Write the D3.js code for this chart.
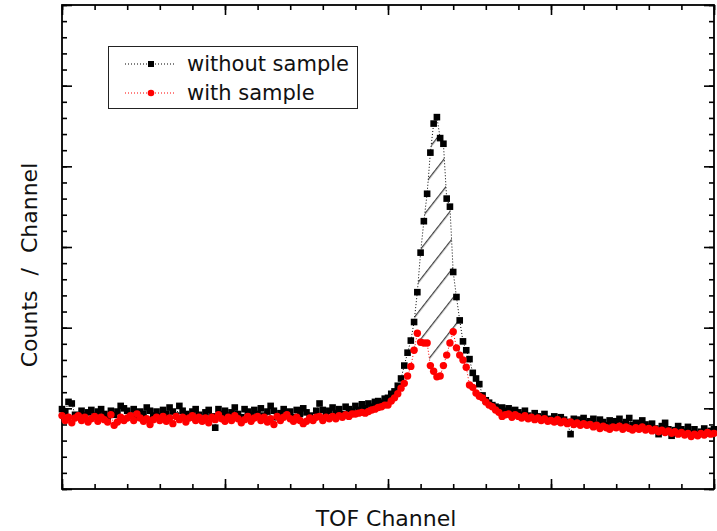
<!DOCTYPE html>
<html>
<head>
<meta charset="utf-8">
<script src="https://cdn.jsdelivr.net/npm/d3@7"></script>
<style>
  body { margin: 0; background: #fff; }
  svg { display: block; font-family: "DejaVu Sans", sans-serif; }
</style>
</head>
<body>
<div id="graph-container"></div>
<script>
// channel numbers, one point per channel
const channels = d3.range(0, 201);

// counts per channel
const withoutSample = [
  99, 96, 108, 106, 92, 90, 97, 91, 95, 98,
  91, 96, 99, 93, 89, 97, 92, 96, 103, 100,
  97, 91, 99, 89, 96, 93, 101, 97, 91, 96,
  90, 98, 93, 101, 96, 91, 103, 97, 93, 89,
  96, 99, 92, 86, 95, 98, 90, 76, 99, 93,
  97, 91, 95, 101, 93, 89, 99, 96, 91, 98,
  93, 100, 91, 96, 103, 97, 89, 94, 99, 91,
  96, 89, 98, 93, 100, 95, 91, 88, 97, 106,
  98, 91, 97, 101, 94, 99, 93, 102, 99, 96,
  103, 98, 105, 100, 106, 102, 108, 109, 107, 112,
  113, 118, 121, 128, 137, 153, 169, 184, 207, 244,
  293, 332, 366, 417, 453, 461, 435, 428, 360, 350,
  269, 238, 209, 183, 172, 161, 144, 137, 130, 116,
  110, 107, 104, 102, 100, 101, 97, 100, 96, 98,
  95, 92, 97, 91, 89, 94, 90, 88, 93, 87,
  86, 90, 84, 89, 86, 83, 68, 87, 82, 86,
  88, 81, 84, 87, 80, 86, 83, 79, 85, 81,
  84, 87, 80, 83, 88, 79, 82, 78, 85, 80,
  77, 81, 75, 68, 78, 82, 74, 66, 73, 78,
  74, 71, 77, 69, 74, 68, 71, 75, 69, 72, 74
];

const withSample = [
  91, 85, 89, 82, 88, 91, 85, 89, 83, 87,
  90, 84, 89, 86, 83, 92, 79, 83, 89, 85,
  88, 91, 85, 93, 88, 84, 87, 80, 86, 89,
  85, 90, 84, 88, 81, 90, 86, 89, 83, 88,
  91, 85, 89, 84, 88, 82, 89, 86, 92, 87,
  84, 89, 85, 91, 87, 82, 86, 90, 84, 88,
  90, 85, 89, 83, 87, 80, 90, 85, 89, 92,
  87, 84, 89, 85, 81, 84, 88, 85, 89, 90,
  85, 89, 87, 90, 87, 91, 89, 92, 90, 93,
  93, 94, 95, 94, 96, 98, 99, 101, 102, 104,
  104, 109, 113, 118, 125, 131, 140, 152, 172, 193,
  182, 181, 181, 153, 146, 139, 140, 153, 166, 181,
  195, 175, 166, 160, 151, 129, 126, 119, 115, 113,
  108, 104, 102, 98, 95, 90, 92, 93, 89, 92,
  90, 88, 91, 87, 89, 86, 88, 85, 87, 84,
  85, 83, 86, 82, 84, 81, 83, 80, 82, 79,
  81, 79, 80, 77, 79, 75, 78, 76, 74, 77,
  76, 78, 74, 77, 75, 73, 76, 74, 77, 73,
  75, 72, 74, 71, 73, 70, 72, 69, 71, 68,
  70, 67, 69, 65, 68, 66, 69, 67, 70, 68, 69
];

// hatched region between the two curves (channel range)
const hatchRange = [108, 122];

const seriesNames = ["without sample", "with sample"];

// the axes carry no numbers, only ticks
const xMajor = d3.range(0, 201, 50);
const xMinor = d3.range(0, 201, 10);
const yMajor = d3.range(0, 601, 100);
const yMinor = d3.range(0, 601, 20);

let margin = {top: 5, right: 3, bottom: 42, left: 62},
  width = 717 - margin.left - margin.right,
  height = 531 - margin.top - margin.bottom;

let svgRoot = d3.select("#graph-container")
  .append("svg")
  .attr("width", 717)
  .attr("height", 531);

let svg = svgRoot.append("g")
  .attr("transform", "translate(" + margin.left + "," + margin.top + ")");

let x = d3.scaleLinear().domain([0, 200]).range([0, width]);
let y = d3.scaleLinear().domain([0, 600]).range([height, 0]);

let black = channels.map((c, i) => ({c: c, v: withoutSample[i]}));
let red = channels.map((c, i) => ({c: c, v: withSample[i]}));

let line = d3.line().x(d => x(d.c)).y(d => y(d.v));

// hatch pattern: thin lines leaning to the right
let defs = svgRoot.append("defs");
let pat = defs.append("pattern")
  .attr("id", "hatch")
  .attr("patternUnits", "userSpaceOnUse")
  .attr("width", 18.5)
  .attr("height", 10)
  .attr("patternTransform", "rotate(38)");
pat.append("line")
  .attr("x1", 7.5).attr("y1", -1)
  .attr("x2", 7.5).attr("y2", 11)
  .attr("stroke", "#222")
  .attr("stroke-width", 1.1);

// hatched area: black curve on top, red curve back along the bottom
let upperEdge = black.filter(d => d.c >= hatchRange[0] && d.c <= hatchRange[1]);
let lowerEdge = red.filter(d => d.c >= hatchRange[0] && d.c <= hatchRange[1]).reverse();
svg.append("path")
  .datum(upperEdge.concat(lowerEdge))
  .attr("d", d => line(d) + "Z")
  .attr("fill", "url(#hatch)")
  .attr("stroke", "none");

// axes: ticks inward on all four sides, no labels
function tickAxis(axis, scale, major, minor, transform) {
  let g1 = svg.append("g").attr("transform", transform)
    .call(axis(scale).tickValues(minor).tickSize(-5).tickFormat(""));
  let g2 = svg.append("g").attr("transform", transform)
    .call(axis(scale).tickValues(major).tickSize(-10).tickFormat(""));
  [g1, g2].forEach(g => {
    g.select(".domain").remove();
    g.selectAll("line").attr("stroke", "#000").attr("stroke-width", 1.6);
  });
}
tickAxis(d3.axisBottom, x, xMajor, xMinor, "translate(0," + height + ")");
tickAxis(d3.axisTop, x, xMajor, xMinor, "translate(0,0)");
tickAxis(d3.axisLeft, y, yMajor, yMinor, "translate(0,0)");
tickAxis(d3.axisRight, y, yMajor, yMinor, "translate(" + width + ",0)");

svg.append("rect")
  .attr("width", width)
  .attr("height", height)
  .attr("fill", "none")
  .attr("stroke", "#000")
  .attr("stroke-width", 1.8);

// without sample: dotted black line + squares
svg.append("path")
  .datum(black)
  .attr("d", line)
  .attr("fill", "none")
  .attr("stroke", "#000")
  .attr("stroke-width", 1)
  .attr("stroke-dasharray", "1,2");
svg.append("g")
  .selectAll("rect")
  .data(black)
  .enter()
  .append("rect")
    .attr("x", d => x(d.c) - 3.3)
    .attr("y", d => y(d.v) - 3.3)
    .attr("width", 6.6)
    .attr("height", 6.6)
    .attr("fill", "#000");

// with sample: dotted red line + circles
svg.append("path")
  .datum(red)
  .attr("d", line)
  .attr("fill", "none")
  .attr("stroke", "#f00")
  .attr("stroke-width", 1)
  .attr("stroke-dasharray", "1,2");
svg.append("g")
  .selectAll("circle")
  .data(red)
  .enter()
  .append("circle")
    .attr("cx", d => x(d.c))
    .attr("cy", d => y(d.v))
    .attr("r", 3.7)
    .attr("fill", "#f00");

// legend
let legend = svgRoot.append("g");
legend.append("rect")
  .attr("x", 108.5).attr("y", 46.5)
  .attr("width", 249).attr("height", 62)
  .attr("fill", "#fff")
  .attr("stroke", "#222")
  .attr("stroke-width", 1);
seriesNames.forEach((name, i) => {
  let ly = 64 + i * 29;
  let col = i === 0 ? "#000" : "#f00";
  legend.append("line")
    .attr("x1", 125).attr("x2", 176)
    .attr("y1", ly).attr("y2", ly)
    .attr("stroke", col)
    .attr("stroke-dasharray", "1,2");
  if (i === 0) {
    legend.append("rect")
      .attr("x", 148).attr("y", ly - 3)
      .attr("width", 6).attr("height", 6)
      .attr("fill", col);
  } else {
    legend.append("circle")
      .attr("cx", 151).attr("cy", ly)
      .attr("r", 3.3)
      .attr("fill", col);
  }
  legend.append("text")
    .attr("x", 187).attr("y", ly + 7)
    .attr("font-size", 21)
    .attr("fill", "#111")
    .text(name);
});

// axis titles
svgRoot.append("text")
  .attr("x", 386).attr("y", 526)
  .attr("text-anchor", "middle")
  .attr("font-size", 22)
  .attr("fill", "#111")
  .text("TOF Channel");

svgRoot.append("text")
  .attr("transform", "translate(37,265) rotate(-90)")
  .attr("text-anchor", "middle")
  .attr("font-size", 22)
  .attr("word-spacing", 8)
  .attr("fill", "#111")
  .text("Counts / Channel");
</script>
</body>
</html>
